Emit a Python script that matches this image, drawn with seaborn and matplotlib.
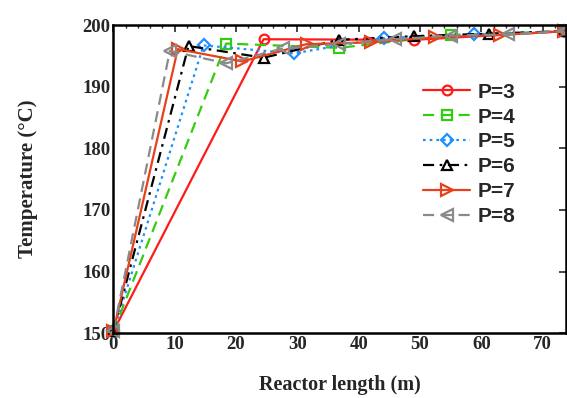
import matplotlib
matplotlib.use("Agg")
import matplotlib.pyplot as plt
import seaborn as sns
import pandas as pd
from matplotlib.ticker import MultipleLocator

sns.set_theme(style="white")
plt.rcParams['font.family'] = ['Liberation Serif', 'DejaVu Serif']

# ---- data ----
x_p3 = [0, 24.5, 49.0, 73.5]
y_p3 = [150.3, 197.7, 197.6, 199.0]
x_p4 = [0, 18.4, 36.8, 55.1, 73.5]
y_p4 = [150.3, 197.0, 196.3, 198.4, 199.0]
x_p5 = [0, 14.7, 29.4, 44.1, 58.8, 73.5]
y_p5 = [150.3, 196.7, 195.4, 197.9, 198.5, 199.0]
x_p6 = [0, 12.25, 24.5, 36.75, 49.0, 61.25, 73.5]
y_p6 = [150.3, 196.6, 194.7, 197.6, 198.2, 198.6, 199.0]
x_p7 = [0, 10.5, 21.0, 31.5, 42.0, 52.5, 63.0, 73.5]
y_p7 = [150.3, 196.1, 194.1, 196.9, 197.2, 198.0, 198.4, 199.0]
x_p8 = [0, 9.2, 18.4, 27.6, 36.8, 45.9, 55.1, 64.3, 73.5]
y_p8 = [150.3, 195.8, 193.8, 196.2, 196.9, 197.7, 198.3, 198.5, 199.0]
labels = ["P=3", "P=4", "P=5", "P=6", "P=7", "P=8"]
xs = [x_p3, x_p4, x_p5, x_p6, x_p7, x_p8]
ys = [y_p3, y_p4, y_p5, y_p6, y_p7, y_p8]

colors = ["#ff1a1a", "#33cc11", "#1e90ff", "#000000", "#e8401a", "#8a8a8a"]
markers = ["o", "s", "D", "^", ">", "<"]
styles = ["-", (0, (5, 3)), (0, (1.2, 1.8)), (0, (5, 2.5, 1.2, 2.5)), "-", (0, (5, 3))]
msizes = [7, 7, 6, 7.5, 8.5, 8.5]

fig = plt.figure(figsize=(5.67, 3.98), dpi=100)
ax = fig.add_axes([0.200, 0.163, 0.798, 0.774])

for xv, yv, lab, c, m, ls, ms in zip(xs, ys, labels, colors, markers, styles, msizes):
    df = pd.DataFrame({"x": xv, "y": yv})
    sns.lineplot(data=df, x="x", y="y", ax=ax, color=c, marker=m, linestyle=ls,
                 linewidth=1.6, markersize=ms, markerfacecolor="none",
                 markeredgecolor=c, markeredgewidth=1.6, label=lab,
                 estimator=None, sort=False, clip_on=False)

ax.set_xlim(0, 73.8)
ax.set_ylim(150, 200)
ax.xaxis.set_major_locator(MultipleLocator(10))
ax.xaxis.set_minor_locator(MultipleLocator(2))
ax.yaxis.set_major_locator(MultipleLocator(10))
ax.tick_params(which="both", direction="in", top=True, right=True,
               labelsize=13.5, pad=2)
ax.tick_params(which="major", length=5, width=1.2)
ax.tick_params(which="minor", length=2.5, width=1.0)
for lab in ax.get_xticklabels() + ax.get_yticklabels():
    lab.set_fontweight("bold")
for sp in ax.spines.values():
    sp.set_linewidth(1.8)
    sp.set_color("black")

ax.set_xlabel("Reactor length (m)", fontsize=14.5, fontweight="bold", labelpad=16)
ax.set_ylabel("Temperature (°C)", fontsize=15, fontweight="bold", labelpad=32)

leg = ax.legend(loc="upper left", bbox_to_anchor=(0.666, 0.84), frameon=False,
                prop={"family": "Liberation Sans", "weight": "bold", "size": 15},
                handlelength=2.25, labelspacing=0.28, handletextpad=0.35,
                borderaxespad=0)

fig.savefig("out.png", dpi=100)
